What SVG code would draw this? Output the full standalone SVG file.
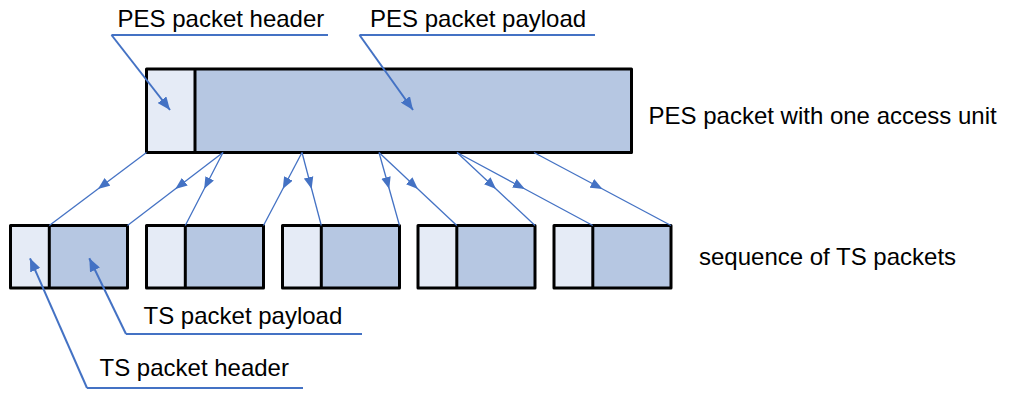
<svg xmlns="http://www.w3.org/2000/svg" width="1009" height="400" viewBox="0 0 1009 400">
<style>
.lbl{font-family:"Liberation Sans",Arial,sans-serif;font-size:24px;fill:#000}
.hdr{fill:#E5EBF6}
.pay{fill:#B6C7E2}
.frame{fill:none;stroke:#000;stroke-width:3;stroke-linejoin:round}
.div{stroke:#000;stroke-width:3}
.con{fill:none;stroke:#4472C4;stroke-width:1.3;marker-mid:url(#arrS)}
.call{fill:none;stroke:#4472C4;stroke-width:2}
.callA{fill:none;stroke:#4472C4;stroke-width:2;marker-end:url(#arrL)}
</style>
<defs>
<marker id="arrS" markerUnits="userSpaceOnUse" markerWidth="12" markerHeight="10" viewBox="0 0 10 8" refX="10" refY="4" orient="auto">
<path d="M0,0 L10,4 L0,8 Z" fill="#4472C4"/>
</marker>
<marker id="arrL" markerUnits="userSpaceOnUse" markerWidth="13" markerHeight="11" viewBox="0 0 13 11" refX="13" refY="5.5" orient="auto">
<path d="M0,0 L13,5.5 L0,11 Z" fill="#4472C4"/>
</marker>
</defs>

<g id="pes-packet">
<rect class="hdr" x="146.5" y="69" width="48.5" height="83.5"/>
<rect class="pay" x="195" y="69" width="436.5" height="83.5"/>
<line class="div" x1="195" y1="69" x2="195" y2="152.5"/>
<rect class="frame" x="146.5" y="69" width="485" height="83.5"/>
</g>

<g id="ts1">
<rect class="hdr" x="10.5" y="225.5" width="38.8" height="62.5"/>
<rect class="pay" x="49.3" y="225.5" width="78.2" height="62.5"/>
<line class="div" x1="49.3" y1="225.5" x2="49.3" y2="288"/>
<rect class="frame" x="10.5" y="225.5" width="117" height="62.5"/>
</g>
<g id="ts2">
<rect class="hdr" x="146.5" y="225.5" width="38.8" height="62.5"/>
<rect class="pay" x="185.3" y="225.5" width="78.2" height="62.5"/>
<line class="div" x1="185.3" y1="225.5" x2="185.3" y2="288"/>
<rect class="frame" x="146.5" y="225.5" width="117" height="62.5"/>
</g>
<g id="ts3">
<rect class="hdr" x="282.5" y="225.5" width="38.8" height="62.5"/>
<rect class="pay" x="321.3" y="225.5" width="78.2" height="62.5"/>
<line class="div" x1="321.3" y1="225.5" x2="321.3" y2="288"/>
<rect class="frame" x="282.5" y="225.5" width="117" height="62.5"/>
</g>
<g id="ts4">
<rect class="hdr" x="418" y="225.5" width="38.8" height="62.5"/>
<rect class="pay" x="456.8" y="225.5" width="78.2" height="62.5"/>
<line class="div" x1="456.8" y1="225.5" x2="456.8" y2="288"/>
<rect class="frame" x="418" y="225.5" width="117" height="62.5"/>
</g>
<g id="ts5">
<rect class="hdr" x="554" y="225.5" width="38.8" height="62.5"/>
<rect class="pay" x="592.8" y="225.5" width="78.2" height="62.5"/>
<line class="div" x1="592.8" y1="225.5" x2="592.8" y2="288"/>
<rect class="frame" x="554" y="225.5" width="117" height="62.5"/>
</g>

<g id="connectors">
<path class="con" d="M146.5,152.5 L97.9,189 L49.3,225.5"/>
<path class="con" d="M223,152.5 L175.25,189 L127.5,225.5"/>
<path class="con" d="M223,152.5 L204.15,189 L185.3,225.5"/>
<path class="con" d="M302,152.5 L282.75,189 L263.5,225.5"/>
<path class="con" d="M302,152.5 L311.65,189 L321.3,225.5"/>
<path class="con" d="M379,152.5 L389.25,189 L399.5,225.5"/>
<path class="con" d="M379,152.5 L417.9,189 L456.8,225.5"/>
<path class="con" d="M457,152.5 L496,189 L535,225.5"/>
<path class="con" d="M457,152.5 L524.9,189 L592.8,225.5"/>
<path class="con" d="M534,152.5 L602.5,189 L671,225.5"/>
</g>

<g id="callout-pes-header">
<line class="call" x1="111.5" y1="35" x2="328" y2="35"/>
<line class="callA" x1="111.5" y1="35" x2="170" y2="110"/>
<text class="lbl" x="117.5" y="26.5">PES packet header</text>
</g>
<g id="callout-pes-payload">
<line class="call" x1="359.5" y1="35" x2="595" y2="35"/>
<line class="callA" x1="359.5" y1="35" x2="413" y2="110"/>
<text class="lbl" x="370" y="26.5">PES packet payload</text>
</g>
<g id="callout-ts-payload">
<line class="call" x1="126" y1="334" x2="362" y2="334"/>
<line class="callA" x1="126" y1="334" x2="89.3" y2="258.3"/>
<text class="lbl" x="143.5" y="323.5">TS packet payload</text>
</g>
<g id="callout-ts-header">
<line class="call" x1="87" y1="388" x2="303" y2="388"/>
<line class="callA" x1="87" y1="388" x2="30" y2="258.3"/>
<text class="lbl" x="99.5" y="376">TS packet header</text>
</g>

<g id="label-pes">
<text class="lbl" x="648.5" y="124">PES packet with one access unit</text>
</g>
<g id="label-ts">
<text class="lbl" x="699" y="265">sequence of TS packets</text>
</g>
</svg>
